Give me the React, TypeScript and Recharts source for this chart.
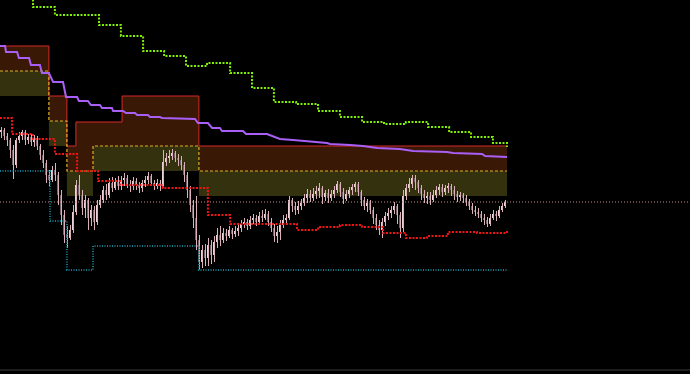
import React from 'react';
import { ComposedChart, Bar, Line, Area, XAxis, YAxis, ReferenceLine } from 'recharts';

// price levels are read as distance from the top of the pane, so the y axis is reversed
const candleOpen = [
  132, 130, 136, 140, 150, 165, 140, 136, 132, 140,
  137, 142, 138, 146, 155, 163, 175, 180, 170, 175,
  195, 215, 235, 238, 230, 212, 185, 195, 208, 200,
  218, 210, 222, 205, 200, 190, 195, 183, 188, 182,
  186, 180, 178, 184, 186, 181, 185, 188, 183, 180,
  176, 183, 186, 183, 186, 162, 158, 156, 153, 158,
  160, 165, 175, 190, 205, 218, 240, 262, 250, 258,
  245, 255, 242, 235, 240, 233, 236, 230, 234, 231,
  228, 224, 222, 226, 220, 218, 222, 216, 218, 214,
  222, 228, 236, 232, 225, 220, 218, 200, 206, 210,
  206, 203, 198, 194, 198, 194, 191, 188, 197, 193,
  198, 194, 190, 184, 192, 199, 194, 190, 187, 184,
  192, 200, 206, 203, 210, 218, 225, 230, 222, 216,
  213, 210, 206, 215, 228, 196, 188, 184, 178, 182,
  188, 194, 198, 196, 200, 195, 190, 187, 192, 188,
  186, 190, 194, 197, 195, 198, 202, 206, 210, 212,
  214, 218, 220, 224, 218, 214, 216, 210, 206,
];
const candleClose = [
  130, 136, 140, 150, 165, 140, 136, 132, 140, 137,
  142, 138, 146, 155, 163, 175, 180, 170, 175, 195,
  215, 235, 238, 230, 212, 185, 195, 208, 200, 218,
  210, 222, 205, 200, 190, 195, 183, 188, 182, 186,
  180, 178, 184, 186, 181, 185, 188, 183, 180, 176,
  183, 186, 183, 186, 162, 158, 156, 153, 158, 160,
  165, 175, 190, 205, 218, 240, 262, 250, 258, 245,
  255, 242, 235, 240, 233, 236, 230, 234, 231, 228,
  224, 222, 226, 220, 218, 222, 216, 218, 214, 222,
  228, 236, 232, 225, 220, 218, 200, 206, 210, 206,
  203, 198, 194, 198, 194, 191, 188, 197, 193, 198,
  194, 190, 184, 192, 199, 194, 190, 187, 184, 192,
  200, 206, 203, 210, 218, 225, 230, 222, 216, 213,
  210, 206, 215, 228, 196, 188, 184, 178, 182, 188,
  194, 198, 196, 200, 195, 190, 187, 192, 188, 186,
  190, 194, 197, 195, 198, 202, 206, 210, 212, 214,
  218, 220, 224, 218, 214, 216, 210, 206, 202,
];
const candleHigh = [
  127, 128, 133, 138, 145, 138, 132, 130, 130, 134,
  134, 135, 136, 144, 150, 160, 170, 166, 163, 172,
  190, 210, 226, 225, 205, 180, 175, 190, 195, 198,
  205, 206, 200, 195, 186, 184, 178, 177, 178, 176,
  176, 173, 175, 180, 177, 178, 182, 180, 176, 172,
  174, 180, 179, 180, 150, 153, 150, 149, 151, 154,
  156, 162, 172, 186, 200, 196, 235, 245, 244, 238,
  240, 236, 228, 226, 228, 229, 226, 228, 226, 224,
  220, 218, 219, 216, 214, 215, 212, 210, 209, 211,
  218, 224, 226, 220, 215, 214, 196, 198, 202, 201,
  199, 194, 189, 190, 188, 186, 183, 186, 190, 189,
  190, 186, 181, 182, 188, 190, 187, 184, 182, 182,
  190, 197, 199, 200, 207, 214, 220, 218, 212, 208,
  206, 202, 204, 212, 190, 184, 178, 175, 175, 180,
  185, 190, 192, 192, 190, 186, 184, 184, 185, 183,
  184, 186, 191, 192, 193, 195, 199, 203, 206, 208,
  211, 214, 217, 214, 210, 211, 206, 203, 200,
];
const candleLow = [
  138, 140, 146, 158, 179, 168, 143, 140, 145, 144,
  146, 147, 150, 160, 168, 183, 186, 182, 181, 205,
  225, 243, 248, 240, 233, 215, 200, 215, 218, 230,
  226, 230, 225, 208, 203, 200, 198, 192, 190, 190,
  190, 186, 188, 192, 190, 190, 193, 192, 187, 184,
  186, 190, 189, 191, 188, 166, 163, 160, 162, 166,
  170, 182, 198, 212, 228, 250, 270, 268, 266, 266,
  264, 262, 248, 246, 243, 241, 238, 239, 237, 236,
  232, 228, 230, 229, 224, 226, 224, 222, 220, 226,
  232, 242, 243, 240, 228, 224, 220, 212, 215, 214,
  210, 206, 203, 202, 201, 199, 198, 204, 201, 203,
  201, 198, 193, 197, 204, 201, 198, 195, 192, 196,
  206, 210, 212, 214, 224, 230, 235, 238, 226, 220,
  218, 214, 224, 238, 232, 200, 192, 188, 190, 193,
  200, 203, 204, 205, 202, 198, 195, 197, 195, 193,
  196, 200, 202, 201, 203, 206, 210, 214, 216, 218,
  222, 225, 227, 226, 220, 221, 218, 212, 208,
];

// supply / demand zones (bar position where each level starts)
const zoneX = [-0.5, 15.8, 21.8, 24.8, 30.5, 40.2, 65.8, 168.5];
const zoneTop = [46, 96, 146, 122, 122, 96, 146, 146];
const zoneMid = [71, 121, 171, 171, 146, 146, 171, 171];
const zoneBottom = [96, 146, 196, 196, 171, 171, 196, 196];

const greenX = [-0.5, 10.5, 17.8, 32.5, 39.8, 47.2, 54.2, 61.5, 68.5, 76.2, 83.5, 90.8, 98.2, 105.5, 112.8, 120.2, 127.5, 134.8, 142.2, 149.2, 156.5, 163.8, 168.5];
const greenY = [-20, 7, 15, 25, 36, 51, 56, 66, 63, 73, 88, 102, 104, 111, 117, 122, 124, 122, 127, 132, 137, 143, 147];

const redX = [-0.5, 3.5, 10.5, 17.8, 25.2, 32.2, 39.5, 53.8, 68.8, 76.2, 98.5, 105.5, 112.8, 120.2, 127.2, 134.8, 141.8, 148.8, 158.5, 168.5];
const redY = [118, 134, 139, 154, 171, 181, 185, 188, 215, 224, 230, 227, 225, 227, 233, 238, 236, 232, 233, 231];

const cyanX = [-0.5, 16.2, 21.8, 30.5, 65.8, 168.5];
const cyanY = [171, 221, 270, 246, 270, 270];

const purpleX = [
  -0.5, 1.2, 1.5, 5.2, 5.8, 9.2, 9.8, 12.8, 13.5, 15.8, 17.2, 20.5, 21.5, 25.2, 25.8, 28.8, 29.8, 32.8,
  33.5, 36.8, 37.2, 40.5, 41.5, 44.5, 45.2, 48.8, 49.5, 52.8, 53.5, 64.5, 65.5, 68.8, 70.2, 72.8,
  73.5, 80.5, 81.5, 88.5, 92.8, 97.2, 108.5, 109.5, 116.2, 120.5, 125.2, 132.8, 137.2, 148.5, 150.5,
  160.2, 161.2, 168.5,
];
const purpleY = [
  46, 46, 52, 52, 58, 58, 65, 65, 73, 73, 82, 82, 97, 97, 101, 101, 105, 105,
  108, 108, 111, 111, 113, 113, 115, 115, 117, 117, 118, 119, 123, 123, 128, 128,
  131, 131, 134, 134, 139, 140, 143, 144, 145, 146, 148, 149, 151, 152, 153,
  154, 156, 157,
];

const lastPrice = 202;
const xTicks = [20, 50, 80, 110, 140, 170, 200];

const candles = candleOpen.map((open, i) => ({
  x: i,
  open,
  close: candleClose[i],
  high: candleHigh[i],
  low: candleLow[i],
}));
const zones = zoneX.map((x, i) => ({ x, top: zoneTop[i], mid: zoneMid[i], bottom: zoneBottom[i] }));
const toPoints = (xs: number[], ys: number[]) => xs.map((x, i) => ({ x, y: ys[i] }));
const greenLine = toPoints(greenX, greenY);
const redLine = toPoints(redX, redY);
const cyanLine = toPoints(cyanX, cyanY);
const purpleLine = toPoints(purpleX, purpleY);

const Candle = (props: any) => {
  const { x, y, width, height, payload } = props;
  if (!payload) return null;
  const top = Math.min(y, y + height);
  const bottom = Math.max(y, y + height);
  const toPx = (v: number) => top + ((v - payload.high) / (payload.low - payload.high)) * (bottom - top);
  const cx = Math.floor(x + width / 2);
  const o = toPx(payload.open);
  const c = toPx(payload.close);
  const rising = payload.close < payload.open;
  return (
    <g>
      <rect
        x={cx - 1}
        y={Math.min(o, c)}
        width={2}
        height={Math.max(1, Math.abs(c - o))}
        fill={rising ? '#ecd0d6' : '#76606a'}
      />
      <line x1={cx + 0.5} x2={cx + 0.5} y1={top} y2={bottom} stroke="#dcb0ba" strokeWidth={1} />
    </g>
  );
};

export default function App() {
  return (
    <div style={{ position: 'fixed', left: 0, top: 0, width: 690, height: 374, background: '#000' }}>
      <ComposedChart width={690} height={374} data={candles} margin={{ top: 0, right: 0, bottom: 0, left: 0 }}>
        <XAxis
          type="number"
          dataKey="x"
          domain={[-0.5, 229.5]}
          ticks={xTicks}
          allowDataOverflow
          height={4}
          axisLine={{ stroke: '#3a3a3a' }}
          tickLine={{ stroke: '#4a4a5a' }}
          tickSize={3}
          tick={false}
        />
        <YAxis type="number" hide reversed domain={[0, 370]} allowDataOverflow />
        <Area
          data={zones}
          dataKey={(d: any) => [d.top, d.mid]}
          type="stepAfter"
          stroke="none"
          fill="#3a1806"
          fillOpacity={1}
          isAnimationActive={false}
        />
        <Area
          data={zones}
          dataKey={(d: any) => [d.mid, d.bottom]}
          type="stepAfter"
          stroke="none"
          fill="#34310f"
          fillOpacity={1}
          isAnimationActive={false}
        />
        <ReferenceLine y={lastPrice} stroke="#c08a8a" strokeDasharray="1 2" />
        <Bar dataKey={(d: any) => [d.high, d.low]} barSize={3} shape={Candle} isAnimationActive={false} />
        <Line data={zones} dataKey="top" type="stepAfter" stroke="#d42a2a" strokeWidth={1} dot={false} isAnimationActive={false} />
        <Line data={zones} dataKey="mid" type="stepAfter" stroke="#dcae22" strokeWidth={1.2} strokeDasharray="3 2" dot={false} isAnimationActive={false} />
        <Line data={greenLine} dataKey="y" type="stepAfter" stroke="#7cf000" strokeWidth={2} strokeDasharray="2 1.5" dot={false} isAnimationActive={false} />
        <Line data={redLine} dataKey="y" type="stepAfter" stroke="#f01414" strokeWidth={2} strokeDasharray="2 1.5" dot={false} isAnimationActive={false} />
        <Line data={cyanLine} dataKey="y" type="stepAfter" stroke="#147a8a" strokeWidth={2} strokeDasharray="1 1.5" dot={false} isAnimationActive={false} />
        <Line data={purpleLine} dataKey="y" type="linear" stroke="#a95ff5" strokeWidth={2} dot={false} isAnimationActive={false} />
      </ComposedChart>
    </div>
  );
}
